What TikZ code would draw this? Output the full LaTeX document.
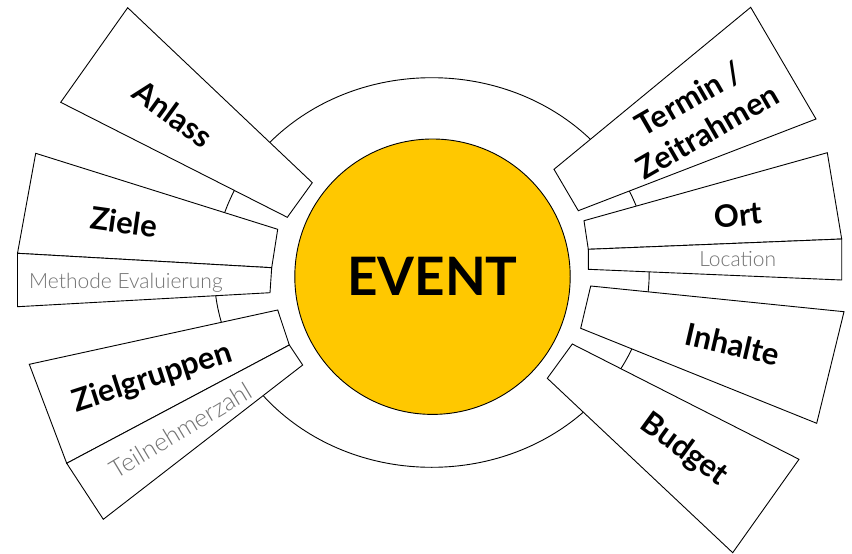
\documentclass[tikz,border=0pt]{standalone}
\usepackage{fontspec}
\setmainfont{Lato}
\newfontfamily\lightfont{Lato Light}
\usepackage{tikz}
\usetikzlibrary{shapes.geometric, positioning}
\definecolor{eventyellow}{HTML}{FFC800}
\definecolor{subgrey}{HTML}{727272}
\tikzset{
    card/.style={
        draw=black, fill=white, line width=0.9pt, line join=miter
    },
    ring_line/.style={
        ellipse, draw=black, line width=0.9pt, inner sep=0pt,
        minimum width=435pt, minimum height=389.6pt
    },
    event_disc/.style={
        circle, draw=black, fill=eventyellow, line width=0.9pt, inner sep=0pt,
        minimum size=275.4pt, font=\bfseries\fontsize{53}{56}\selectfont
    },
    lbl_main/.style={
        font=\bfseries\fontsize{31}{38}\selectfont, align=center, inner sep=0pt
    },
    lbl_sub/.style={
        font=\lightfont\fontsize{21}{24}\selectfont, text=subgrey, inner sep=0pt
    }
}

\begin{document}
\begin{tikzpicture}[x=1pt, y=-1pt]

    \fill[white] (0,0) rectangle (852,554);
    \useasboundingbox (0,0) rectangle (852,554);

    % --- Outer ring (mostly hidden behind the cards) ---
    \node[ring_line] (ring) at (431.7,272.5) {};

    % --- Left side cards ---
    \draw[card] (127.7,7.7) -- (312.3,182.7) -- (287.3,217.3) -- (60.7,102.3) -- cycle;
    \node[lbl_main, rotate=-36] (anlass) at (173,114) {Anlass};

    \draw[card] (35.7,153.3) -- (277.7,229.3) -- (271.7,267.7) -- (17.5,253.3) -- cycle;
    \node[lbl_main, rotate=-8] (ziele) at (124,222) {Ziele};
    \draw[card] (17.5,253.3) -- (271.7,267.7) -- (270,292.7) -- (17.5,306.7) -- cycle;
    \node[lbl_sub] (methode) at (125.9,283.2) {Methode Evaluierung};

    \draw[card] (29.3,364.3) -- (277.7,310) -- (289.3,345) -- (66.7,463.3) -- cycle;
    \node[lbl_main, rotate=18] (zielgruppen) at (152.5,378.3) {Zielgruppen};
    \draw[card] (66.7,463.3) -- (289.3,345) -- (302.7,365) -- (103.3,519.3) -- cycle;
    \node[lbl_sub, font=\lightfont\fontsize{25}{28}\selectfont, rotate=31]
        (teilnehmer) at (181,430) {Teilnehmerzahl};

    % --- Right side cards ---
    \draw[card] (750.7,7.3) -- (816,119) -- (578.3,210.7) -- (554,169.3) -- cycle;
    \node[lbl_main, rotate=30] (termin) at (698,115) {Termin /\\Zeitrahmen};

    \draw[card] (584,220.7) -- (827.3,152.7) -- (841.7,239) -- (588.3,249.3) -- cycle;
    \node[lbl_main, rotate=6] (ort) at (738,215) {Ort};
    \draw[card] (588.3,249.3) -- (841.7,239) -- (841.7,280) -- (588.3,269.3) -- cycle;
    \node[lbl_sub] (location) at (737.7,259.3) {Location};

    \draw[card] (590.7,286) -- (844,311.7) -- (816.7,423.3) -- (580.7,328.3) -- cycle;
    \node[lbl_main, rotate=-13] (inhalte) at (732.5,344.2) {Inhalte};

    \draw[card] (572.3,344) -- (799,459.3) -- (732.7,552.7) -- (547.3,378.3) -- cycle;
    \node[lbl_main, rotate=-36] (budget) at (684.2,450) {Budget};

    % --- Centre ---
    \node[event_disc] (event) at (432.5,276.7) {EVENT};

\end{tikzpicture}
\end{document}
